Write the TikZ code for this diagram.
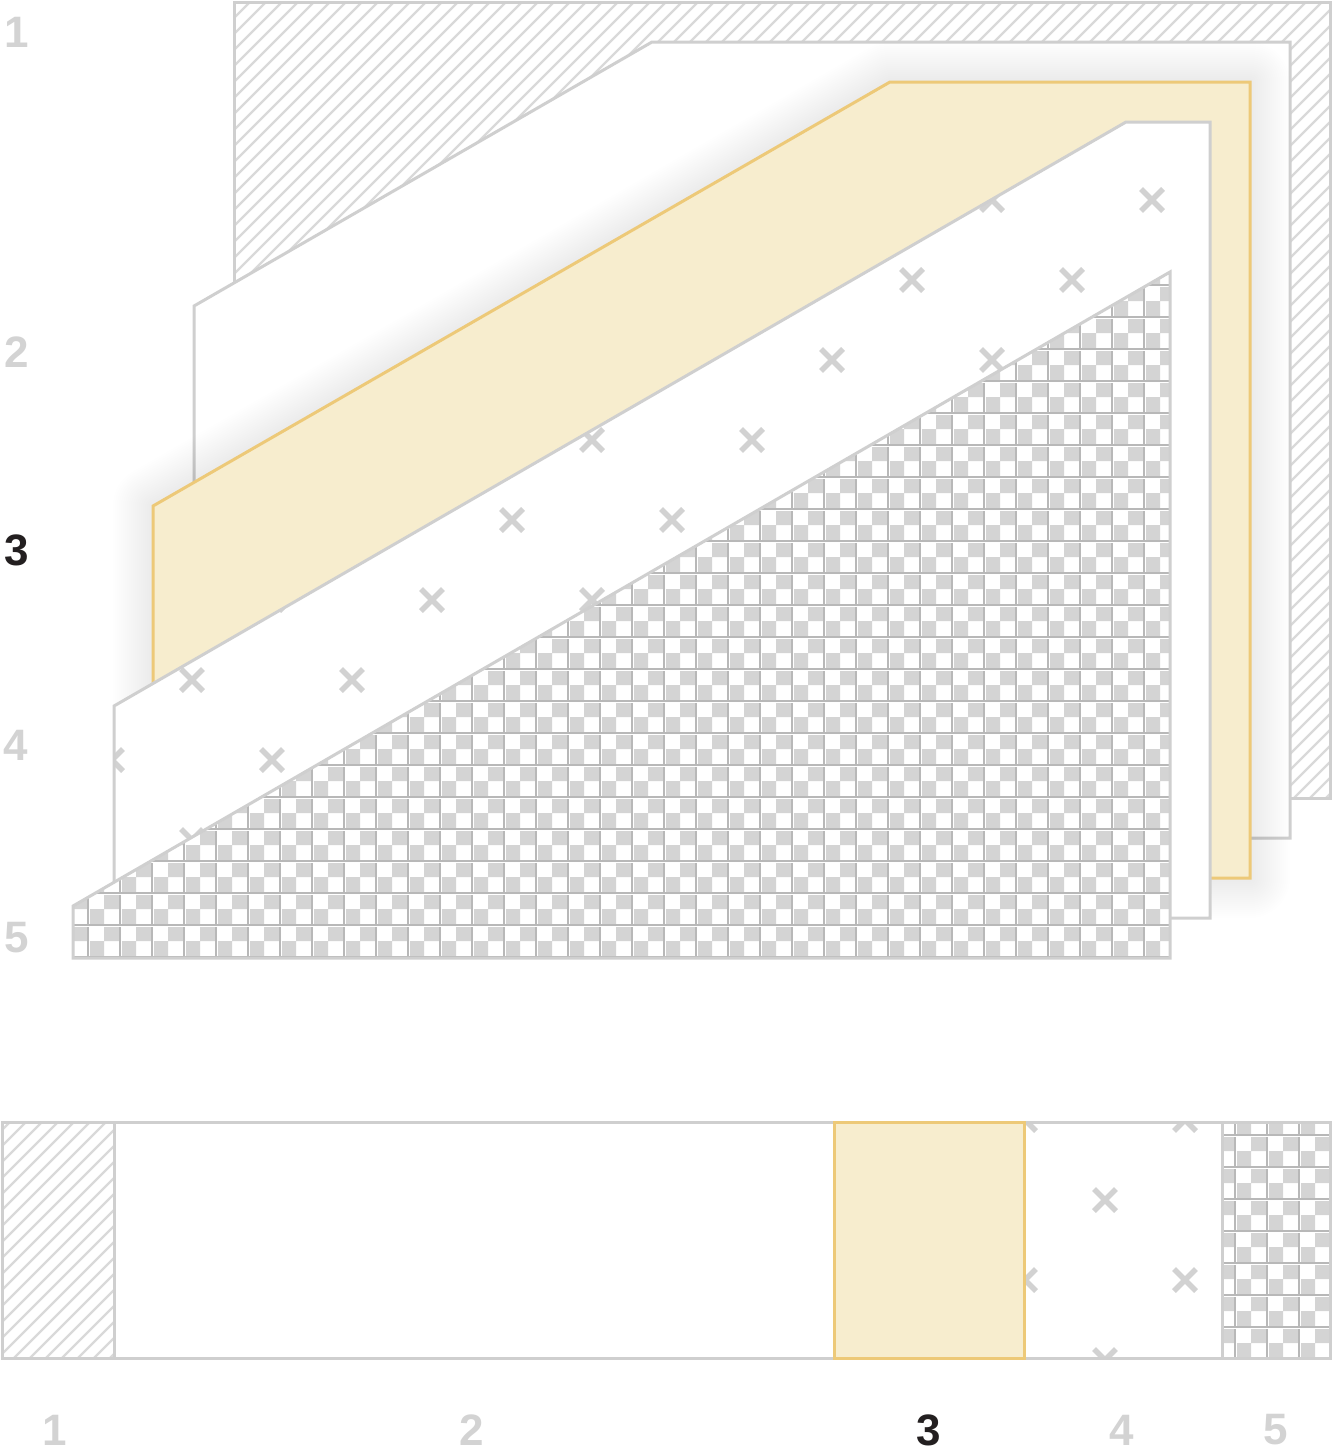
\documentclass[tikz,border=0pt]{standalone}
\usepackage{fontspec}
\setmainfont{Liberation Sans}
\definecolor{edgegray}{HTML}{CFCFCF}
\definecolor{hatchgray}{HTML}{D9D9D9}
\definecolor{yfill}{HTML}{F7EDCE}
\definecolor{yedge}{HTML}{EDC978}
\definecolor{ckgray}{HTML}{D4D4D4}
\definecolor{gridgray}{HTML}{B8B8B8}
\definecolor{xgray}{HTML}{D2D2D2}
\definecolor{lblgray}{HTML}{D3D3D3}
\definecolor{lbldark}{HTML}{231F20}
\begin{document}
\begin{tikzpicture}[x=1pt,y=-1pt,
  edge/.style={draw=edgegray,line width=3pt},
  yline/.style={draw=yedge,line width=3pt},
  hatchline/.style={draw=hatchgray,line width=2.2pt},
  xmk/.style={draw=xgray,line width=5.5pt},
  gridline/.style={draw=gridgray,line width=1.4pt},
  gridhi/.style={draw=white,line width=1.2pt},
  lbl/.style={font=\fontsize{44}{44}\selectfont\bfseries,text=lblgray,inner sep=0pt},
  lblsel/.style={lbl,text=lbldark}]
\useasboundingbox (0,0) rectangle (1332,1456);

% ---------- layer 1 (hatched)
\fill[white] (234,2) rectangle (1330,798);
\begin{scope}
  \clip (234,2) rectangle (1330,798);
  \foreach \c in {220,236,...,2140} \draw[hatchline] (\c-1000,1000) -- (\c,0);
\end{scope}
\draw[edge] (234,2) rectangle (1330,798);

% ---------- layer 2 (white)
\filldraw[fill=white,edge] (194,306) -- (652,42) -- (1290,42) -- (1290,838) -- (194,838) -- cycle;

% ---------- shadow of layer 3
\foreach \w in {4,8,...,80}
  \draw[line width=\w pt,black,opacity=0.0045,line join=round]
    (153,506) -- (890,82) -- (1250,82) -- (1250,878) -- (153,878) -- cycle;

% ---------- layer 3 (yellow)
\filldraw[fill=yfill,yline] (153,506) -- (890,82) -- (1250,82) -- (1250,878) -- (153,878) -- cycle;

% ---------- layer 4 (crosses)
\fill[white] (114,706) -- (1126,122) -- (1210,122) -- (1210,918) -- (114,918) -- cycle;
\begin{scope}
  \clip (114,706) -- (1126,122) -- (1210,122) -- (1210,918) -- (114,918) -- cycle;
  \foreach \a in {-1,...,7} \foreach \b in {-1,...,5} {
    \draw[xmk] (192+160*\a-11,200+160*\b-11) -- (192+160*\a+11,200+160*\b+11)
               (192+160*\a-11,200+160*\b+11) -- (192+160*\a+11,200+160*\b-11);
    \draw[xmk] (112+160*\a-11,280+160*\b-11) -- (112+160*\a+11,280+160*\b+11)
               (112+160*\a-11,280+160*\b+11) -- (112+160*\a+11,280+160*\b-11);
  }
\end{scope}
\draw[edge] (114,706) -- (1126,122) -- (1210,122) -- (1210,918) -- (114,918) -- cycle;

% ---------- layer 5 (checker)
\fill[white] (73,906) -- (1170,272) -- (1170,958) -- (73,958) -- cycle;
\begin{scope}
  \clip (73,906) -- (1170,272) -- (1170,958) -- (73,958) -- cycle;
  \fill[ckgray] \foreach \a in {0,...,35} { \foreach \b in {0,...,22} {
      (72+32*\a,253+32*\b) rectangle ++(16,16)
      (56+32*\a,269+32*\b) rectangle ++(16,16) } };
  \foreach \a in {0,...,36} {
    \draw[gridhi] (57.8+32*\a,240) -- (57.8+32*\a,990);
    \draw[gridline] (56+32*\a,240) -- (56+32*\a,990); }
  \foreach \b in {0,...,23} {
    \draw[gridhi] (40,254.8+32*\b) -- (1200,254.8+32*\b);
    \draw[gridline] (40,253+32*\b) -- (1200,253+32*\b); }
\end{scope}
\draw[edge] (73,906) -- (1170,272) -- (1170,958) -- (73,958) -- cycle;

% ---------- bottom bar
\begin{scope}
  \clip (2,1122) rectangle (114,1358);
  \foreach \c in {1100,1116,...,1500} \draw[hatchline] (\c-1400,1400) -- (\c-1000,1000);
\end{scope}
\begin{scope}
  \clip (1024,1122) rectangle (1222,1358);
  \foreach \a in {0,1} \foreach \b in {0,1} {
    \draw[xmk] (1025+160*\a-11,1120+160*\b-11) -- (1025+160*\a+11,1120+160*\b+11)
               (1025+160*\a-11,1120+160*\b+11) -- (1025+160*\a+11,1120+160*\b-11);
    \draw[xmk] (1105+160*\a-11,1200+160*\b-11) -- (1105+160*\a+11,1200+160*\b+11)
               (1105+160*\a-11,1200+160*\b+11) -- (1105+160*\a+11,1200+160*\b-11);
  }
\end{scope}
\begin{scope}
  \clip (1222,1122) rectangle (1330,1358);
  \fill[ckgray] \foreach \a in {0,...,4} { \foreach \b in {0,...,8} {
      (1219+32*\a,1103+32*\b) rectangle ++(16,16)
      (1203+32*\a,1119+32*\b) rectangle ++(16,16) } };
  \foreach \a in {0,...,4} {
    \draw[gridhi] (1204.8+32*\a,1100) -- (1204.8+32*\a,1380);
    \draw[gridline] (1203+32*\a,1100) -- (1203+32*\a,1380); }
  \foreach \b in {0,...,8} {
    \draw[gridhi] (1200,1104.8+32*\b) -- (1340,1104.8+32*\b);
    \draw[gridline] (1200,1103+32*\b) -- (1340,1103+32*\b); }
\end{scope}
\fill[yfill] (834,1122) rectangle (1024,1358);
\draw[edge] (2,1122) rectangle (1330,1358);
\draw[edge] (114,1122) -- (114,1358);
\draw[edge] (1222,1122) -- (1222,1358);
\draw[yline] (834,1122) rectangle (1024,1358);

% ---------- labels
\node[lbl] (L1) at (17,32) {1};
\node[lbl] (L2) at (17,352) {2};
\node[lblsel] (L3) at (17,550) {3};
\node[lbl] (L4) at (16,745) {4};
\node[lbl] (L5) at (17,938) {5};
\node[lbl] (B1) at (55,1430) {1};
\node[lbl] (B2) at (472,1430) {2};
\node[lblsel] (B3) at (929,1430) {3};
\node[lbl] (B4) at (1122,1430) {4};
\node[lbl] (B5) at (1276,1430) {5};
\end{tikzpicture}
\end{document}
